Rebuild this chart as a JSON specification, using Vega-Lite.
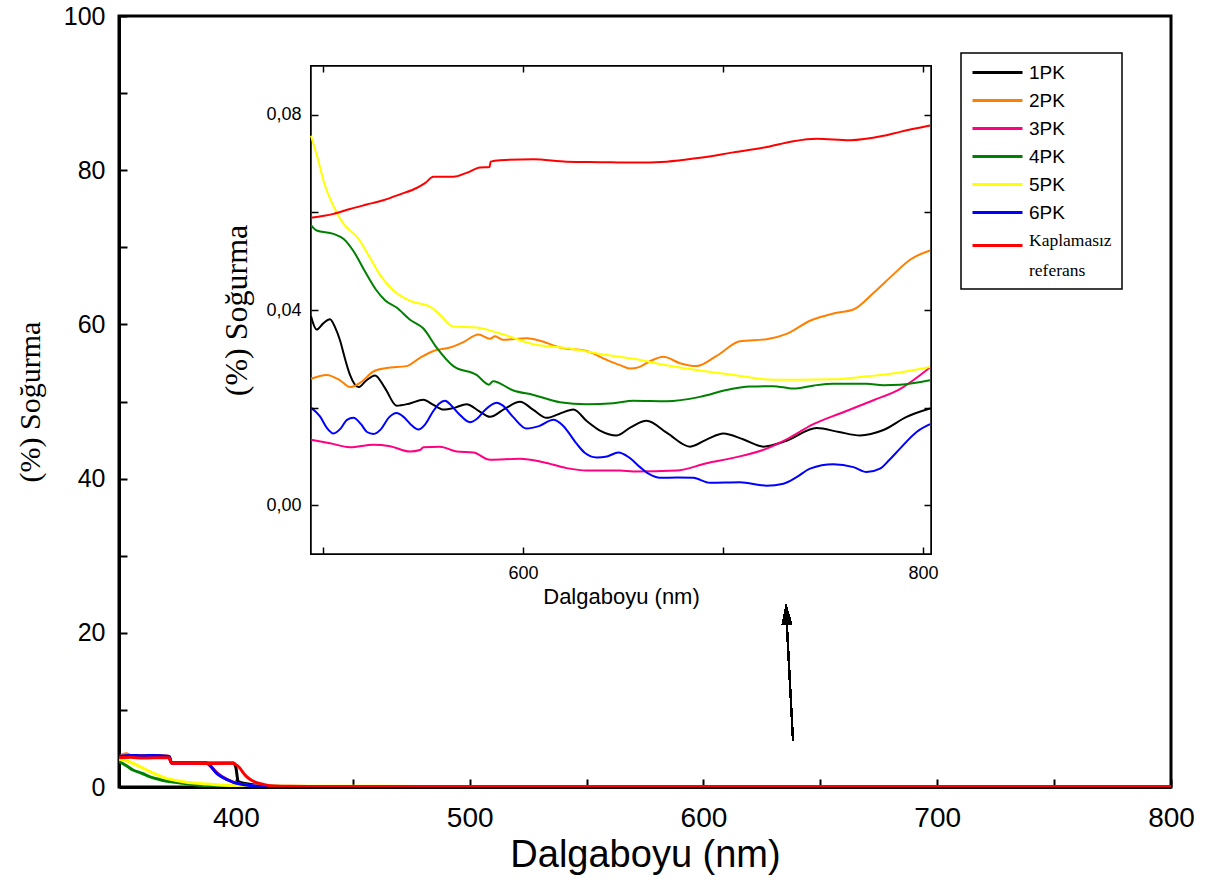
{
"$schema": "https://vega.github.io/schema/vega-lite/v6.json",
"width": 1052, "height": 771,
"autosize": "none",
"padding": {"left": 119, "top": 16, "right": 47, "bottom": 96},
"background": "white",
"config": {"view": {"stroke": "black", "strokeWidth": 3}, "font": "Liberation Sans", "legend": {"strokeWidth": 1.5}, "style": {"guide-label": {"lineHeight": 30}}},
"datasets": {"spec": [
{"s":"1PK","x":350,"y":4.0},{"s":"1PK","x":355,"y":4.1},{"s":"1PK","x":360,"y":4.0},{"s":"1PK","x":365,"y":4.05},{"s":"1PK","x":371.5,"y":3.95},{"s":"1PK","x":372.5,"y":3.15},{"s":"1PK","x":380,"y":3.15},{"s":"1PK","x":390,"y":3.1},{"s":"1PK","x":399,"y":3.1},{"s":"1PK","x":400,"y":2.5},{"s":"1PK","x":401,"y":0.7},{"s":"1PK","x":404,"y":0.45},{"s":"1PK","x":408,"y":0.25},{"s":"1PK","x":413,"y":0.12},{"s":"1PK","x":420,"y":0.07},{"s":"1PK","x":440,"y":0.05},{"s":"1PK","x":470,"y":0.045},
{"s":"1PK","x":494,"y":0.0387},{"s":"1PK","x":496.8,"y":0.036},{"s":"1PK","x":500,"y":0.0372},{"s":"1PK","x":503.5,"y":0.0381},{"s":"1PK","x":506,"y":0.0365},{"s":"1PK","x":508.5,"y":0.0338},{"s":"1PK","x":511,"y":0.030},{"s":"1PK","x":513.5,"y":0.0267},{"s":"1PK","x":517.7,"y":0.0242},{"s":"1PK","x":521.5,"y":0.0255},{"s":"1PK","x":526,"y":0.0266},{"s":"1PK","x":531,"y":0.024},{"s":"1PK","x":536.8,"y":0.0204},{"s":"1PK","x":543,"y":0.0208},{"s":"1PK","x":550.2,"y":0.0216},{"s":"1PK","x":555,"y":0.0206},{"s":"1PK","x":560.2,"y":0.0196},{"s":"1PK","x":566,"y":0.02},{"s":"1PK","x":571.8,"y":0.0207},{"s":"1PK","x":578,"y":0.0193},{"s":"1PK","x":583.5,"y":0.0181},{"s":"1PK","x":591,"y":0.0198},{"s":"1PK","x":598.5,"y":0.0212},{"s":"1PK","x":605,"y":0.0196},{"s":"1PK","x":611.8,"y":0.0179},{"s":"1PK","x":618,"y":0.0187},{"s":"1PK","x":625.2,"y":0.0196},{"s":"1PK","x":632,"y":0.0172},{"s":"1PK","x":638.5,"y":0.0153},{"s":"1PK","x":646.8,"y":0.0143},{"s":"1PK","x":654,"y":0.016},{"s":"1PK","x":661.8,"y":0.0173},{"s":"1PK","x":672,"y":0.0148},{"s":"1PK","x":683.5,"y":0.012},{"s":"1PK","x":692,"y":0.0135},{"s":"1PK","x":700.2,"y":0.0147},{"s":"1PK","x":710,"y":0.0135},{"s":"1PK","x":720.2,"y":0.012},{"s":"1PK","x":731.8,"y":0.0132},{"s":"1PK","x":746.8,"y":0.0158},{"s":"1PK","x":758,"y":0.015},{"s":"1PK","x":768.5,"y":0.0143},{"s":"1PK","x":780.2,"y":0.0154},{"s":"1PK","x":791.8,"y":0.0181},{"s":"1PK","x":803.5,"y":0.0198},
{"s":"2PK","x":350,"y":3.9},{"s":"2PK","x":353,"y":4.3},{"s":"2PK","x":356,"y":4.0},{"s":"2PK","x":360,"y":4.1},{"s":"2PK","x":365,"y":4.0},{"s":"2PK","x":371,"y":4.0},{"s":"2PK","x":372.5,"y":3.1},{"s":"2PK","x":387,"y":3.1},{"s":"2PK","x":390,"y":2.5},{"s":"2PK","x":392,"y":1.8},{"s":"2PK","x":396,"y":1.0},{"s":"2PK","x":401,"y":0.42},{"s":"2PK","x":406,"y":0.18},{"s":"2PK","x":411,"y":0.08},{"s":"2PK","x":420,"y":0.04},{"s":"2PK","x":450,"y":0.03},{"s":"2PK","x":470,"y":0.027},
{"s":"2PK","x":494,"y":0.0259},{"s":"2PK","x":501.8,"y":0.0267},{"s":"2PK","x":508.5,"y":0.0256},{"s":"2PK","x":513.5,"y":0.0242},{"s":"2PK","x":519.3,"y":0.0253},{"s":"2PK","x":525.2,"y":0.0274},{"s":"2PK","x":531.8,"y":0.0281},{"s":"2PK","x":541.8,"y":0.0285},{"s":"2PK","x":548.5,"y":0.0302},{"s":"2PK","x":555.2,"y":0.0316},{"s":"2PK","x":563.5,"y":0.0323},{"s":"2PK","x":570.2,"y":0.0334},{"s":"2PK","x":577.7,"y":0.035},{"s":"2PK","x":583.5,"y":0.0341},{"s":"2PK","x":586,"y":0.0346},{"s":"2PK","x":590.2,"y":0.0339},{"s":"2PK","x":601.8,"y":0.0342},{"s":"2PK","x":608.5,"y":0.0337},{"s":"2PK","x":618.5,"y":0.0323},{"s":"2PK","x":631.8,"y":0.0316},{"s":"2PK","x":641.8,"y":0.0298},{"s":"2PK","x":648.5,"y":0.0287},{"s":"2PK","x":653.5,"y":0.028},{"s":"2PK","x":658,"y":0.0283},{"s":"2PK","x":663.5,"y":0.0295},{"s":"2PK","x":670.2,"y":0.0304},{"s":"2PK","x":678.5,"y":0.0291},{"s":"2PK","x":686.8,"y":0.0285},{"s":"2PK","x":696.8,"y":0.0306},{"s":"2PK","x":708.5,"y":0.0336},{"s":"2PK","x":721.8,"y":0.034},{"s":"2PK","x":731.8,"y":0.0351},{"s":"2PK","x":743.5,"y":0.0378},{"s":"2PK","x":755.2,"y":0.0393},{"s":"2PK","x":765.2,"y":0.0401},{"s":"2PK","x":775.2,"y":0.0435},{"s":"2PK","x":785.2,"y":0.0473},{"s":"2PK","x":793.5,"y":0.0503},{"s":"2PK","x":803.5,"y":0.0522},
{"s":"3PK","x":350,"y":3.9},{"s":"3PK","x":360,"y":4.0},{"s":"3PK","x":371,"y":4.0},{"s":"3PK","x":372.5,"y":3.1},{"s":"3PK","x":387,"y":3.1},{"s":"3PK","x":392,"y":1.8},{"s":"3PK","x":396,"y":1.0},{"s":"3PK","x":401,"y":0.4},{"s":"3PK","x":406,"y":0.18},{"s":"3PK","x":411,"y":0.07},{"s":"3PK","x":420,"y":0.03},{"s":"3PK","x":450,"y":0.018},{"s":"3PK","x":470,"y":0.015},
{"s":"3PK","x":494,"y":0.0134},{"s":"3PK","x":503.5,"y":0.0127},{"s":"3PK","x":513.5,"y":0.0119},{"s":"3PK","x":525.2,"y":0.0124},{"s":"3PK","x":533.5,"y":0.0121},{"s":"3PK","x":543.5,"y":0.011},{"s":"3PK","x":548.5,"y":0.0113},{"s":"3PK","x":550.2,"y":0.0119},{"s":"3PK","x":558.5,"y":0.012},{"s":"3PK","x":566.8,"y":0.011},{"s":"3PK","x":575.2,"y":0.0108},{"s":"3PK","x":583.5,"y":0.0093},{"s":"3PK","x":598.5,"y":0.0095},{"s":"3PK","x":610.2,"y":0.0088},{"s":"3PK","x":621.8,"y":0.0076},{"s":"3PK","x":631.8,"y":0.0071},{"s":"3PK","x":648.5,"y":0.0071},{"s":"3PK","x":655.2,"y":0.0069},{"s":"3PK","x":676.8,"y":0.0071},{"s":"3PK","x":691.8,"y":0.0086},{"s":"3PK","x":705.2,"y":0.0097},{"s":"3PK","x":721.8,"y":0.0116},{"s":"3PK","x":731.8,"y":0.0135},{"s":"3PK","x":745.2,"y":0.0166},{"s":"3PK","x":758.5,"y":0.0188},{"s":"3PK","x":775.2,"y":0.0215},{"s":"3PK","x":788.5,"y":0.0238},{"s":"3PK","x":803.5,"y":0.0282},
{"s":"4PK","x":350,"y":3.3},{"s":"4PK","x":353,"y":2.8},{"s":"4PK","x":356,"y":2.2},{"s":"4PK","x":360,"y":1.75},{"s":"4PK","x":363,"y":1.34},{"s":"4PK","x":367,"y":1.0},{"s":"4PK","x":370,"y":0.78},{"s":"4PK","x":374,"y":0.6},{"s":"4PK","x":377.5,"y":0.47},{"s":"4PK","x":382,"y":0.3},{"s":"4PK","x":387.5,"y":0.17},{"s":"4PK","x":395,"y":0.1},{"s":"4PK","x":405,"y":0.08},{"s":"4PK","x":420,"y":0.07},{"s":"4PK","x":450,"y":0.065},{"s":"4PK","x":475,"y":0.06},
{"s":"4PK","x":494,"y":0.0574},{"s":"4PK","x":496.8,"y":0.0563},{"s":"4PK","x":505.2,"y":0.0556},{"s":"4PK","x":510.2,"y":0.0546},{"s":"4PK","x":515.2,"y":0.0521},{"s":"4PK","x":521,"y":0.0479},{"s":"4PK","x":526.8,"y":0.044},{"s":"4PK","x":531,"y":0.042},{"s":"4PK","x":536.8,"y":0.0405},{"s":"4PK","x":543.5,"y":0.038},{"s":"4PK","x":550.2,"y":0.0362},{"s":"4PK","x":556.8,"y":0.0323},{"s":"4PK","x":565.2,"y":0.0285},{"s":"4PK","x":576.8,"y":0.0267},{"s":"4PK","x":583,"y":0.0247},{"s":"4PK","x":585,"y":0.0254},{"s":"4PK","x":595.2,"y":0.0235},{"s":"4PK","x":605.2,"y":0.0226},{"s":"4PK","x":618.5,"y":0.0211},{"s":"4PK","x":631.8,"y":0.0207},{"s":"4PK","x":645.2,"y":0.0209},{"s":"4PK","x":655.2,"y":0.0214},{"s":"4PK","x":671.8,"y":0.0213},{"s":"4PK","x":688.5,"y":0.0222},{"s":"4PK","x":701.8,"y":0.0236},{"s":"4PK","x":713.5,"y":0.0243},{"s":"4PK","x":725,"y":0.0244},{"s":"4PK","x":735.2,"y":0.0239},{"s":"4PK","x":745,"y":0.0245},{"s":"4PK","x":755.2,"y":0.0249},{"s":"4PK","x":771.8,"y":0.0249},{"s":"4PK","x":780.2,"y":0.0246},{"s":"4PK","x":788.5,"y":0.0247},{"s":"4PK","x":803.5,"y":0.0256},
{"s":"5PK","x":350,"y":3.6},{"s":"5PK","x":353,"y":3.4},{"s":"5PK","x":356,"y":3.07},{"s":"5PK","x":360,"y":2.5},{"s":"5PK","x":363.3,"y":1.99},{"s":"5PK","x":367,"y":1.5},{"s":"5PK","x":370.4,"y":1.12},{"s":"5PK","x":374,"y":0.88},{"s":"5PK","x":377.5,"y":0.69},{"s":"5PK","x":382,"y":0.52},{"s":"5PK","x":387.5,"y":0.39},{"s":"5PK","x":393,"y":0.27},{"s":"5PK","x":399,"y":0.17},{"s":"5PK","x":405,"y":0.13},{"s":"5PK","x":420,"y":0.1},{"s":"5PK","x":440,"y":0.09},{"s":"5PK","x":460,"y":0.085},{"s":"5PK","x":480,"y":0.08},
{"s":"5PK","x":494,"y":0.0757},{"s":"5PK","x":496.8,"y":0.0719},{"s":"5PK","x":501,"y":0.0655},{"s":"5PK","x":505.2,"y":0.0613},{"s":"5PK","x":510.2,"y":0.0577},{"s":"5PK","x":517.7,"y":0.0546},{"s":"5PK","x":523.5,"y":0.0507},{"s":"5PK","x":528.5,"y":0.0472},{"s":"5PK","x":535.2,"y":0.044},{"s":"5PK","x":543.5,"y":0.0419},{"s":"5PK","x":554.3,"y":0.0405},{"s":"5PK","x":558.5,"y":0.039},{"s":"5PK","x":565.2,"y":0.0366},{"s":"5PK","x":576.8,"y":0.0364},{"s":"5PK","x":588.5,"y":0.0352},{"s":"5PK","x":605.2,"y":0.033},{"s":"5PK","x":621.8,"y":0.0322},{"s":"5PK","x":638.5,"y":0.031},{"s":"5PK","x":655.2,"y":0.03},{"s":"5PK","x":671.8,"y":0.0287},{"s":"5PK","x":688.5,"y":0.0276},{"s":"5PK","x":705.2,"y":0.0267},{"s":"5PK","x":725.2,"y":0.0257},{"s":"5PK","x":738.5,"y":0.0257},{"s":"5PK","x":755.2,"y":0.0258},{"s":"5PK","x":771.8,"y":0.0264},{"s":"5PK","x":788.5,"y":0.0272},{"s":"5PK","x":803.5,"y":0.0283},
{"s":"6PK","x":350,"y":4.0},{"s":"6PK","x":355,"y":4.1},{"s":"6PK","x":360,"y":4.05},{"s":"6PK","x":365,"y":4.1},{"s":"6PK","x":370,"y":4.0},{"s":"6PK","x":371.5,"y":3.9},{"s":"6PK","x":372.5,"y":3.1},{"s":"6PK","x":387.5,"y":3.1},{"s":"6PK","x":389.5,"y":2.6},{"s":"6PK","x":391.8,"y":1.77},{"s":"6PK","x":394,"y":1.3},{"s":"6PK","x":396.1,"y":1.0},{"s":"6PK","x":399,"y":0.6},{"s":"6PK","x":401.8,"y":0.39},{"s":"6PK","x":406,"y":0.2},{"s":"6PK","x":410.3,"y":0.08},{"s":"6PK","x":420,"y":0.04},{"s":"6PK","x":450,"y":0.025},{"s":"6PK","x":470,"y":0.022},
{"s":"6PK","x":494,"y":0.02},{"s":"6PK","x":498.5,"y":0.0182},{"s":"6PK","x":502,"y":0.0158},{"s":"6PK","x":505.2,"y":0.0147},{"s":"6PK","x":509,"y":0.0158},{"s":"6PK","x":512,"y":0.0175},{"s":"6PK","x":515.2,"y":0.0179},{"s":"6PK","x":519,"y":0.0166},{"s":"6PK","x":522,"y":0.015},{"s":"6PK","x":525.2,"y":0.0146},{"s":"6PK","x":529,"y":0.0156},{"s":"6PK","x":533,"y":0.018},{"s":"6PK","x":536.8,"y":0.0189},{"s":"6PK","x":540,"y":0.0182},{"s":"6PK","x":544,"y":0.0165},{"s":"6PK","x":547.7,"y":0.0155},{"s":"6PK","x":551,"y":0.0165},{"s":"6PK","x":555,"y":0.0192},{"s":"6PK","x":558,"y":0.0208},{"s":"6PK","x":561,"y":0.0214},{"s":"6PK","x":564,"y":0.0205},{"s":"6PK","x":568,"y":0.0187},{"s":"6PK","x":573.5,"y":0.017},{"s":"6PK","x":577,"y":0.0177},{"s":"6PK","x":581,"y":0.0195},{"s":"6PK","x":586.8,"y":0.021},{"s":"6PK","x":590,"y":0.0204},{"s":"6PK","x":595,"y":0.0181},{"s":"6PK","x":601.8,"y":0.0157},{"s":"6PK","x":608,"y":0.0162},{"s":"6PK","x":615.2,"y":0.0175},{"s":"6PK","x":620,"y":0.0163},{"s":"6PK","x":626.8,"y":0.0126},{"s":"6PK","x":631,"y":0.0107},{"s":"6PK","x":636.8,"y":0.0098},{"s":"6PK","x":642,"y":0.01},{"s":"6PK","x":647.7,"y":0.0108},{"s":"6PK","x":653,"y":0.0098},{"s":"6PK","x":658.5,"y":0.0078},{"s":"6PK","x":663,"y":0.0064},{"s":"6PK","x":668.5,"y":0.0056},{"s":"6PK","x":677,"y":0.0057},{"s":"6PK","x":685.2,"y":0.0056},{"s":"6PK","x":693.5,"y":0.0046},{"s":"6PK","x":708.5,"y":0.0047},{"s":"6PK","x":721.8,"y":0.004},{"s":"6PK","x":730.2,"y":0.0044},{"s":"6PK","x":737,"y":0.0058},{"s":"6PK","x":743.5,"y":0.0075},{"s":"6PK","x":755.2,"y":0.0084},{"s":"6PK","x":765.2,"y":0.0078},{"s":"6PK","x":771.8,"y":0.0068},{"s":"6PK","x":778.5,"y":0.0075},{"s":"6PK","x":783,"y":0.0092},{"s":"6PK","x":788.5,"y":0.0116},{"s":"6PK","x":796.8,"y":0.015},{"s":"6PK","x":803.5,"y":0.0166},
{"s":"Kaplamasız referans","x":350,"y":3.8},{"s":"Kaplamasız referans","x":355,"y":3.85},{"s":"Kaplamasız referans","x":360,"y":3.75},{"s":"Kaplamasız referans","x":365,"y":3.8},{"s":"Kaplamasız referans","x":371.5,"y":3.8},{"s":"Kaplamasız referans","x":372.5,"y":3.07},{"s":"Kaplamasız referans","x":380,"y":3.07},{"s":"Kaplamasız referans","x":390,"y":3.05},{"s":"Kaplamasız referans","x":398.9,"y":3.07},{"s":"Kaplamasız referans","x":400.5,"y":2.8},{"s":"Kaplamasız referans","x":401.8,"y":2.42},{"s":"Kaplamasız referans","x":403,"y":1.9},{"s":"Kaplamasız referans","x":404.6,"y":1.34},{"s":"Kaplamasız referans","x":406.5,"y":0.9},{"s":"Kaplamasız referans","x":408.9,"y":0.56},{"s":"Kaplamasız referans","x":412,"y":0.32},{"s":"Kaplamasız referans","x":416,"y":0.13},{"s":"Kaplamasız referans","x":423,"y":0.09},{"s":"Kaplamasız referans","x":440,"y":0.075},{"s":"Kaplamasız referans","x":470,"y":0.065},
{"s":"Kaplamasız referans","x":494,"y":0.0589},{"s":"Kaplamasız referans","x":505.2,"y":0.0597},{"s":"Kaplamasız referans","x":513.5,"y":0.0607},{"s":"Kaplamasız referans","x":521.8,"y":0.0616},{"s":"Kaplamasız referans","x":530.2,"y":0.0625},{"s":"Kaplamasız referans","x":538.5,"y":0.0637},{"s":"Kaplamasız referans","x":546.8,"y":0.065},{"s":"Kaplamasız referans","x":551,"y":0.066},{"s":"Kaplamasız referans","x":555.2,"y":0.0673},{"s":"Kaplamasız referans","x":565.2,"y":0.0673},{"s":"Kaplamasız referans","x":571.8,"y":0.0681},{"s":"Kaplamasız referans","x":578.5,"y":0.0692},{"s":"Kaplamasız referans","x":583.3,"y":0.0693},{"s":"Kaplamasız referans","x":583.8,"y":0.0704},{"s":"Kaplamasız referans","x":588.5,"y":0.0707},{"s":"Kaplamasız referans","x":605.2,"y":0.0709},{"s":"Kaplamasız referans","x":621.8,"y":0.0704},{"s":"Kaplamasız referans","x":638.5,"y":0.0703},{"s":"Kaplamasız referans","x":655.2,"y":0.0702},{"s":"Kaplamasız referans","x":671.8,"y":0.0704},{"s":"Kaplamasız referans","x":688.5,"y":0.0712},{"s":"Kaplamasız referans","x":705.2,"y":0.0723},{"s":"Kaplamasız referans","x":721.8,"y":0.0734},{"s":"Kaplamasız referans","x":735.2,"y":0.0746},{"s":"Kaplamasız referans","x":746.8,"y":0.0751},{"s":"Kaplamasız referans","x":763.5,"y":0.0748},{"s":"Kaplamasız referans","x":780.2,"y":0.0757},{"s":"Kaplamasız referans","x":788.5,"y":0.0765},{"s":"Kaplamasız referans","x":803.5,"y":0.0778}
]},
"data": {"name": "spec"},
"layer": [
  {
    "layer": [
      {
        "mark": {"type": "line", "strokeWidth": 3, "clip": true, "interpolate": "monotone"},
        "encoding": {
          "x": {"field": "x", "type": "quantitative",
            "scale": {"domain": [350, 800], "nice": false, "zero": false},
            "axis": {"orient": "bottom", "values": [400,450,500,550,600,650,700,750,800],
              "labelExpr": "datum.value % 100 == 0 ? datum.label : ''",
              "tickSize": -8, "tickWidth": 2, "tickColor": "black", "domainColor": "black", "domainWidth": 3,
              "labelFontSize": 28, "labelColor": "black", "labelPadding": 25, "labelFlush": false,
              "grid": false, "title": "Dalgaboyu (nm)", "titleFontSize": 38, "titleFontWeight": "normal", "titleColor": "black", "titlePadding": 4}},
          "y": {"field": "y", "type": "quantitative",
            "scale": {"domain": [0, 100], "nice": false, "zero": false},
            "axis": {"orient": "left", "values": [0,10,20,30,40,50,60,70,80,90,100],
              "labelExpr": "datum.value % 20 == 0 ? datum.label : ''",
              "tickSize": -8, "tickWidth": 2, "tickColor": "black", "domainColor": "black", "domainWidth": 3,
              "labelFontSize": 25, "labelColor": "black", "labelPadding": 22, "labelFlush": false,
              "grid": false, "title": "(%) Soğurma", "titleFont": "Liberation Serif", "titleFontSize": 30, "titleFontWeight": "normal", "titleColor": "black", "titlePadding": 18}},
          "color": {"field": "s", "type": "nominal",
            "scale": {"domain": ["1PK","2PK","3PK","4PK","5PK","6PK","Kaplamasız referans"],
                      "range": ["#000000","#FF8000","#FF0080","#008000","#FFFF00","#0000FF","#FF0000"]},
            "legend": {"orient": "none", "legendX": 842, "legendY": 37, "title": null,
              "symbolType": "M-5,0H5", "symbolSize": 100, "symbolStrokeWidth": 3, "symbolOffset": 17,
              "labelFontSize": {"expr": "datum.label == 'Kaplamasız referans' ? 17.5 : 19"},
              "labelColor": "black", "labelOffset": 22,
              "labelFont": {"expr": "datum.label == 'Kaplamasız referans' ? 'Liberation Serif' : 'Liberation Sans'"},
              "labelBaseline": {"expr": "datum.label == 'Kaplamasız referans' ? 'alphabetic' : 'middle'"},
              "labelExpr": "datum.label == 'Kaplamasız referans' ? ['Kaplamasız', ' referans'] : datum.label",
              "strokeColor": "black", "fillColor": "white", "padding": 10, "rowPadding": 8}}
        }
      },
      {
        "mark": {"type": "rule", "strokeWidth": 1.5, "color": "black"},
        "encoding": {
          "x": {"datum": 638.3, "type": "quantitative"},
          "y": {"datum": 6.0, "type": "quantitative"},
          "x2": {"datum": 635.6},
          "y2": {"datum": 21.5}
        }
      },
      {
        "mark": {"type": "point", "shape": "M0,-1L0.5,1L-0.5,1Z", "filled": true, "color": "black", "opacity": 1, "size": 400, "angle": -3},
        "encoding": {
          "x": {"datum": 635.5, "type": "quantitative"},
          "y": {"datum": 22.4, "type": "quantitative"}
        }
      }
    ]
  },
  {
    "transform": [{"filter": "datum.x >= 494"}],
    "layer": [
      {
        "mark": {"type": "rect", "fill": "white", "stroke": "black", "strokeWidth": 1.5},
        "encoding": {
          "x": {"datum": 494, "type": "quantitative",
            "scale": {"domain": [494, 804], "range": [192, 812], "nice": false, "zero": false},
            "axis": {"orient": "top", "offset": -50, "values": [500,600,700,800], "labels": false, "domain": false, "zindex": 2,
              "tickSize": -6, "tickWidth": 1.5, "tickColor": "black", "grid": false, "title": null}},
          "x2": {"datum": 804},
          "y": {"datum": -0.01, "type": "quantitative",
            "scale": {"domain": [-0.01, 0.09], "range": [538, 50], "nice": false, "zero": false},
            "axis": {"orient": "right", "offset": -240, "values": [0,0.02,0.04,0.06,0.08], "labels": false, "domain": false, "zindex": 2,
              "tickSize": -7, "tickWidth": 1.5, "tickColor": "black", "grid": false, "title": null}},
          "y2": {"datum": 0.09}
        }
      },
      {
        "mark": {"type": "line", "strokeWidth": 2, "interpolate": "monotone"},
        "encoding": {
          "x": {"field": "x", "type": "quantitative",
            "scale": {"domain": [494, 804], "range": [192, 812], "nice": false, "zero": false},
            "axis": {"orient": "bottom", "offset": -233, "values": [500,600,700,800], "zindex": 2,
              "labelExpr": "(datum.value == 600 || datum.value == 800) ? datum.label : ''",
              "domain": false, "tickSize": -7, "tickWidth": 1.5, "tickColor": "black",
              "labelFontSize": 18, "labelColor": "black", "labelPadding": 17, "labelFlush": false,
              "grid": false, "title": "Dalgaboyu (nm)", "titleFontSize": 22, "titleFontWeight": "normal", "titleColor": "black", "titlePadding": 4}},
          "y": {"field": "y", "type": "quantitative",
            "scale": {"domain": [-0.01, 0.09], "range": [538, 50], "nice": false, "zero": false},
            "axis": {"orient": "left", "offset": -192, "values": [0,0.02,0.04,0.06,0.08], "zindex": 2,
              "labelExpr": "(round(datum.value*100) % 4 == 0) ? replace(format(datum.value, '.2f'), '.', ',') : ''",
              "domain": false, "tickSize": -7, "tickWidth": 1.5, "tickColor": "black",
              "labelFontSize": 18, "labelColor": "black", "labelPadding": 17, "labelFlush": false,
              "grid": false, "title": "(%) Soğurma", "titleFont": "Liberation Serif", "titleFontSize": 32, "titleFontWeight": "normal", "titleColor": "black", "titlePadding": 12}},
          "color": {"field": "s", "type": "nominal"}
        }
      }
    ],
    "resolve": {"axis": {"x": "independent", "y": "independent"}}
  }
],
"resolve": {"scale": {"x": "independent", "y": "independent"}, "axis": {"x": "independent", "y": "independent"}}
}
